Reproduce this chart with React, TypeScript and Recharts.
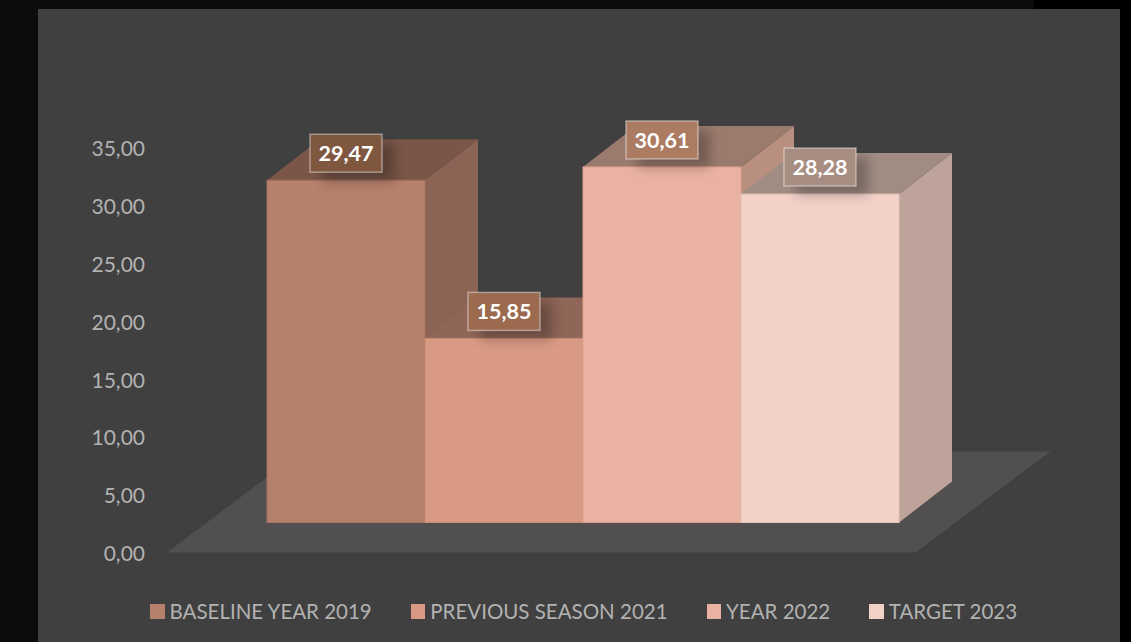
import React from 'react';
import { BarChart, Bar, XAxis, YAxis, Legend, LabelList, ReferenceArea } from 'recharts';

const seriesNames = ['BASELINE YEAR 2019', 'PREVIOUS SEASON 2021', 'YEAR 2022', 'TARGET 2023'];
const seriesValues = [29.47, 15.85, 30.61, 28.28];
const yTicks = [0, 5, 10, 15, 20, 25, 30, 35];
const frontColors = ['#B5806C', '#D99A83', '#EAB3A1', '#F2D1C7'];
const topColors = ['#7A5648', '#8F6658', '#9B7B6E', '#A08C83'];
const sideColors = ['#8B6456', '#8B6456', '#B98F80', '#BDA399'];
const edgeColors = ['#A5705D', '#C98A73', '#DDA18E', '#E6C2B7'];
const labelFills = ['#7F573F', '#9C6A4E', '#AB7B62', '#A78D82'];

const row: Record<string, number | string> = { name: 'Chart' };
seriesNames.forEach((n, i) => { row[n] = seriesValues[i]; });
const data = [row];

const FONT = 'Lato, sans-serif';
const SHIFT_X = 41;
const SHIFT_Y = -30;
const DEPTH_X = 53;
const DEPTH_Y = -41;
const STRETCH = 1.005;

const fmt = (v: number) => v.toFixed(2).replace('.', ',');

const Box3D = (i: number) => (p: any) => {
  const h = p.height * STRETCH;
  const x = p.x + SHIFT_X;
  const b = p.y + p.height + SHIFT_Y;
  const t = b - h;
  const r = x + p.width;
  const pts = (a: number[][]) => a.map((q) => q.join(',')).join(' ');
  return (
    <g>
      <polygon points={pts([[r, t], [r + DEPTH_X, t + DEPTH_Y], [r + DEPTH_X, b + DEPTH_Y], [r, b]])} fill={sideColors[i]} />
      <polygon points={pts([[x, t], [x + DEPTH_X, t + DEPTH_Y], [r + DEPTH_X, t + DEPTH_Y], [r, t]])} fill={topColors[i]} />
      <rect x={x} y={t} width={p.width} height={h} fill={frontColors[i]} stroke={edgeColors[i]} strokeWidth={1} />
    </g>
  );
};

const ValueLabel = (i: number) => (p: any) => {
  const w = 72;
  const hh = 38;
  const cx = p.x + SHIFT_X + p.width / 2;
  const h = p.height * STRETCH;
  const cy = p.y + p.height + SHIFT_Y - h - 27;
  return (
    <g>
      <rect x={cx - w / 2 + 12} y={cy - hh / 2 + 9} width={w} height={hh} fill="#000" opacity={0.26} style={{ filter: 'blur(6px)' }} />
      <rect x={cx - w / 2} y={cy - hh / 2} width={w} height={hh} fill={labelFills[i]} stroke="#ffffff" strokeOpacity={0.42} strokeWidth={1.5} />
      <text x={cx} y={cy + 8} textAnchor="middle" fill="#fff" fontFamily={FONT} fontWeight={700} fontSize={21.5}>
        {fmt(Number(p.value))}
      </text>
    </g>
  );
};

const Floor = (p: any) => {
  const { x, y, width, height } = p;
  const d = height * 1.33;
  return <polygon points={`${x},${y + height} ${x + width},${y + height} ${x + width + d},${y} ${x + d},${y}`} fill="#524F50" />;
};

const LegendContent = (p: any) => (
  <div style={{ display: 'flex', gap: 39, fontFamily: FONT, fontSize: 20.5, color: '#B2B2B2', lineHeight: '24px', whiteSpace: 'nowrap' }}>
    {(p.payload || []).map((e: any, i: number) => (
      <div key={e.value} style={{ display: 'flex', alignItems: 'center', gap: 5 }}>
        <span style={{ display: 'inline-block', width: 14.5, height: 15, background: frontColors[i] }} />
        <span>{e.value}</span>
      </div>
    ))}
  </div>
);

export default function App() {
  return (
    <div style={{ position: 'absolute', left: 0, top: 0, width: 1131, height: 642, background: '#0C0C0C', overflow: 'hidden' }}>
      <div style={{ position: 'absolute', left: 1034, top: 0, width: 97, height: 642, background: '#000' }} />
      <div style={{ position: 'absolute', left: 38, top: 9, width: 1082, height: 633, background: '#404040' }} />
      <div style={{ position: 'absolute', left: 0, top: 0 }}>
        <BarChart
          width={1131}
          height={642}
          data={data}
          margin={{ top: 148, bottom: 65.5, left: 67, right: 215 }}
          barGap={0}
          barCategoryGap={59}
        >
          <XAxis dataKey="name" hide />
          <YAxis
            width={100}
            domain={[0, 35]}
            ticks={yTicks}
            tickFormatter={fmt}
            axisLine={false}
            tickLine={false}
            tickMargin={16}
            tick={{ fill: '#B2B2B2', fontFamily: FONT, fontSize: 21, dy: 1 }}
            interval={0}
          />
          <ReferenceArea y1={0} y2={8.75} shape={Floor} />
          <Legend
            content={LegendContent}
            itemSorter={null}
            wrapperStyle={{ position: 'absolute', left: 150, top: 599, width: 'auto', bottom: 'auto' }}
          />
          {seriesNames.map((n, i) => (
            <Bar key={n} dataKey={n} name={n} isAnimationActive={false} shape={Box3D(i)}>
              <LabelList dataKey={n} content={ValueLabel(i)} />
            </Bar>
          ))}
        </BarChart>
      </div>
    </div>
  );
}
